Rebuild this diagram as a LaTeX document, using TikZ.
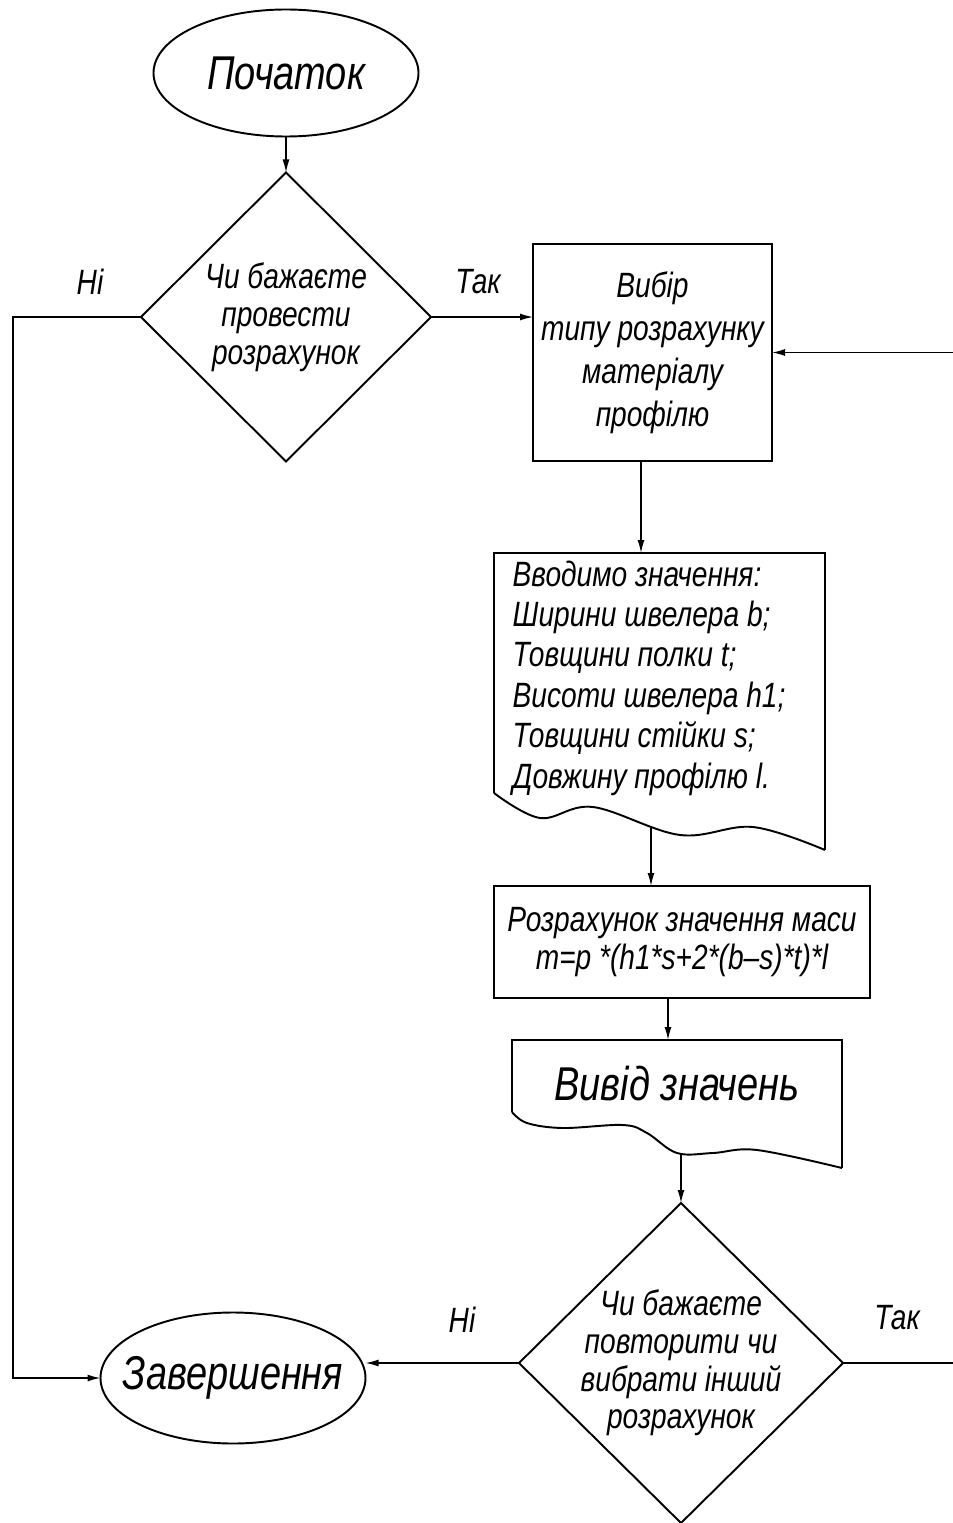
\documentclass[tikz,border=0pt]{standalone}
\usepackage{fontspec}
\newfontfamily\gost{Liberation Sans}[FakeStretch=0.8]
\usetikzlibrary{arrows.meta,shapes.geometric}

\tikzset{
  shp/.style={line width=1.1pt},
  blk/.style={draw,shp,align=center,inner sep=0pt,outer sep=0pt},
  lbl/.style={font=\gost\itshape\fontsize{20}{21.5}\selectfont},
  big/.style={font=\gost\itshape\fontsize{27}{30}\selectfont},
  ln/.style={line width=0.8pt},
  arr/.style={ln,-{Latex[length=2.6mm,width=1.4mm]}},
}

\begin{document}
\begin{tikzpicture}
\useasboundingbox (0,0) rectangle (19.06,-30.46);
% start / end
\node[blk,ellipse,minimum width=5.3cm,minimum height=2.54cm,
  label={[big]center:Початок}] (st) at (5.72,-1.46) {};
\node[blk,ellipse,minimum width=5.3cm,minimum height=2.62cm,
  label={[big]center:Завершення}] (fin) at (4.66,-27.56) {};
% first question
\node[blk,diamond,minimum width=5.8cm,minimum height=5.78cm,
  label={[lbl,align=center]center:Чи бажаєте\\провести\\розрахунок}] (q1) at (5.72,-6.34) {};
\node[lbl] (no1) at (1.8,-5.64) {Ні};
\node[lbl] (yes1) at (9.56,-5.64) {Так};
% choice of calculation
\node[blk,lbl,minimum width=4.78cm,minimum height=4.34cm] (sel) at (13.05,-7.05)
  {Вибір\\[3pt]типу розрахунку\\[3pt]матеріалу\\[3pt]профілю};
% input document
\node[inner sep=0pt,outer sep=0pt,minimum width=6.62cm,minimum height=4.8cm,
  label={[lbl,align=left,anchor=west,xshift=0.25cm,yshift=-0.1cm]west:Вводимо значення:\\[1.5pt]Ширини швелера b;\\[1.5pt]Товщини полки t;\\[1.5pt]Висоти швелера h1;\\[1.5pt]Товщини стійки s;\\[1.5pt]Довжину профілю l.}] (inp) at (13.19,-13.46) {};
\draw[shp] (inp.south west) -- (inp.north west) -- (inp.north east) -- ([yshift=-1.14cm]inp.south east);
\draw[shp,shift={(inp.south west)}] plot[smooth,tension=.6] coordinates
  {(0,0) (0.92,-0.5) (1.98,-0.28) (3.72,-0.84) (5.18,-0.68) (6.62,-1.14)};
% mass
\node[blk,lbl,minimum width=7.52cm,minimum height=2.24cm] (calc) at (13.64,-18.84)
  {Розрахунок значення маси\\m=p *(h1*s+2*(b–s)*t)*l};
% output document
\node[inner sep=0pt,outer sep=0pt,minimum width=6.6cm,minimum height=1.44cm,
  label={[big,yshift=-0.15cm]center:Вивід значень}] (outp) at (13.54,-21.52) {};
\draw[shp] (outp.south west) -- (outp.north west) -- (outp.north east) -- ([yshift=-1.12cm]outp.south east);
\draw[shp,shift={(outp.south west)}] plot[smooth,tension=.6] coordinates
  {(0,0) (0.3,-0.22) (1.02,-0.32) (2.22,-0.26) (2.7,-0.42) (3.3,-0.82) (4.02,-0.82) (4.9,-0.76) (6.6,-1.12)};
% second question
\node[blk,diamond,minimum width=6.48cm,minimum height=6.4cm,
  label={[lbl,align=center]center:Чи бажаєте\\повторити чи\\вибрати інший\\розрахунок}] (q2) at (13.62,-27.26) {};
\node[lbl] (no2) at (9.24,-26.4) {Ні};
\node[lbl] (yes2) at (17.94,-26.36) {Так};

\draw[arr] (st.south) -- (q1.north);
\draw[arr] (q1.east) -- (q1.east -| sel.west);
\draw[arr] (q1.west) -- ++(-2.56,0) |- (fin.west);
\draw[arr] ([xshift=-0.23cm]sel.south) -- ([xshift=-0.23cm]sel.south |- inp.north);
\draw[arr] ([xshift=-0.17cm,yshift=-0.68cm]inp.south) -- ([xshift=-0.17cm]inp.south |- calc.north);
\draw[arr] ([xshift=-0.28cm]calc.south) -- ([xshift=-0.28cm]calc.south |- outp.north);
\draw[arr] ([yshift=-0.82cm]outp.south -| q2.north) -- (q2.north);
\draw[arr] (q2.west) -- (q2.west -| fin.east);
\draw[arr] (q2.east) -- ++(2.4,0) |- (sel.east);
\end{tikzpicture}
\end{document}
